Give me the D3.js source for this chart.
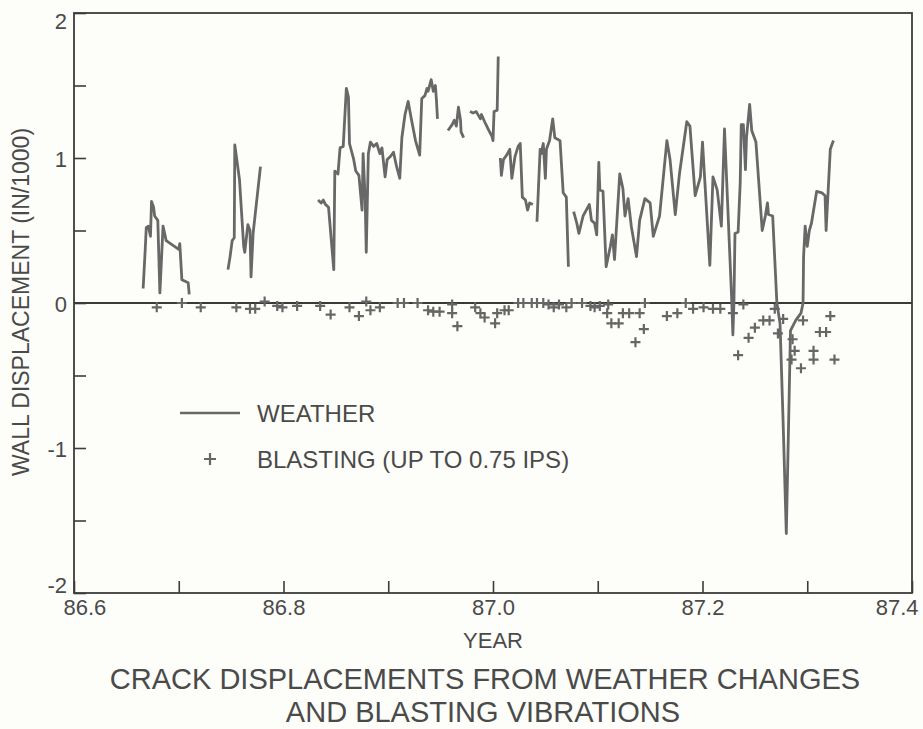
<!DOCTYPE html>
<html>
<head>
<meta charset="utf-8">
<script src="https://cdn.jsdelivr.net/npm/d3@7"></script>
<style>
  html, body { margin: 0; padding: 0; background: #fdfdf9; }
  svg { display: block; }
  text { font-family: "Liberation Sans", Arial, Helvetica, sans-serif; fill: #4a4a4a; }
</style>
</head>
<body>
<svg id="chart" width="923" height="729"></svg>
<script>
// ---------- DATA ----------
const xTicks = [86.6, 86.7, 86.8, 86.9, 87.0, 87.1, 87.2, 87.3, 87.4];
const xTickLabels = ["86.6", "", "86.8", "", "87.0", "", "87.2", "", "87.4"];
const yTicks = [-2, -1.5, -1, -0.5, 0, 0.5, 1, 1.5, 2];
const yTickLabels = ["-2", "", "-1", "", "0", "", "1", "", "2"];

// weather record, broken into the separate traces of the figure: [year, displacement]
const weather1 = [[86.666,0.10],[86.668,0.37],[86.669,0.52],[86.671,0.53],[86.673,0.46],[86.674,0.70],[86.676,0.66],[86.677,0.60],[86.680,0.57],[86.682,0.07],[86.685,0.53],[86.688,0.43],[86.700,0.37],[86.701,0.41],[86.703,0.16],[86.706,0.15],[86.709,0.14],[86.710,0.06]];
const weather2 = [[86.747,0.23],[86.749,0.32],[86.751,0.43],[86.753,0.45],[86.7535,1.09],[86.755,1.01],[86.758,0.85],[86.762,0.39],[86.763,0.35],[86.766,0.54],[86.768,0.50],[86.769,0.18],[86.771,0.48],[86.778,0.94]];
const weather3 = [[86.833,0.71],[86.836,0.69],[86.838,0.71],[86.840,0.68],[86.843,0.66],[86.848,0.23],[86.849,0.91],[86.852,0.89],[86.854,1.07],[86.857,1.08],[86.860,1.48],[86.862,1.42],[86.863,1.10],[86.867,0.99],[86.869,0.91],[86.872,0.88],[86.875,0.64],[86.876,1.03],[86.878,0.71],[86.879,0.35],[86.881,1.03],[86.883,1.11],[86.886,1.08],[86.889,1.10],[86.892,1.03],[86.894,1.07],[86.897,0.87],[86.899,0.99],[86.902,1.01],[86.905,1.04],[86.908,0.94],[86.911,0.86],[86.913,1.14],[86.916,1.30],[86.919,1.39],[86.922,1.27],[86.926,1.12],[86.930,1.02],[86.932,1.41],[86.935,1.43],[86.937,1.48],[86.938,1.46],[86.941,1.54],[86.943,1.46],[86.945,1.50],[86.946,1.40],[86.947,1.27]];
const weather4 = [[86.957,1.19],[86.961,1.23],[86.963,1.26],[86.965,1.22],[86.967,1.35],[86.969,1.26],[86.9695,1.18],[86.972,1.14]];
const weather5 = [[86.978,1.32],[86.981,1.31],[86.984,1.32],[86.988,1.27],[86.989,1.30],[86.992,1.25],[86.996,1.19],[86.999,1.15],[87.000,1.12],[87.001,1.32],[87.004,1.33],[87.005,1.70]];
const weather6 = [[87.007,1.00],[87.008,0.88],[87.010,0.99],[87.013,1.02],[87.016,1.06],[87.018,0.86],[87.021,1.01],[87.024,1.08],[87.026,1.10],[87.028,0.73],[87.031,0.71],[87.033,0.64],[87.035,0.69],[87.038,0.68]];
const weather7 = [[87.042,0.56],[87.045,1.06],[87.046,1.03],[87.048,1.10],[87.050,0.86],[87.051,1.06],[87.054,1.12],[87.057,1.27],[87.059,1.14],[87.064,1.12],[87.067,0.76],[87.070,0.73],[87.072,0.25]];
const weather8 = [[87.077,0.63],[87.080,0.55],[87.082,0.48],[87.086,0.60],[87.089,0.64],[87.092,0.68],[87.094,0.57],[87.097,0.55],[87.099,0.47],[87.101,0.97],[87.102,0.78],[87.105,0.77],[87.108,0.25],[87.112,0.39],[87.114,0.47],[87.116,0.30],[87.121,0.89],[87.124,0.79],[87.126,0.60],[87.129,0.72],[87.132,0.53],[87.137,0.32],[87.140,0.57],[87.145,0.72],[87.150,0.69],[87.153,0.46],[87.156,0.53],[87.159,0.60],[87.166,1.12],[87.169,0.99],[87.174,0.61],[87.178,0.89],[87.185,1.25],[87.188,1.22],[87.193,0.74],[87.198,0.87],[87.200,1.11],[87.207,0.26],[87.210,0.87],[87.214,0.78],[87.218,0.53],[87.221,1.20],[87.228,0.00],[87.229,-0.22],[87.230,0.00],[87.231,0.48],[87.234,0.49],[87.236,0.83],[87.237,1.23],[87.239,1.23],[87.241,0.92],[87.242,1.14],[87.245,1.37],[87.247,1.19],[87.251,1.11],[87.257,0.50],[87.260,0.60],[87.262,0.69],[87.263,0.61],[87.267,0.60],[87.271,0.00],[87.274,-0.14],[87.277,-0.83],[87.280,-1.59],[87.282,-0.90],[87.284,-0.19],[87.289,-0.12],[87.294,-0.07],[87.296,0.00],[87.2965,0.32],[87.298,0.53],[87.300,0.39],[87.302,0.50],[87.304,0.55],[87.309,0.77],[87.314,0.76],[87.317,0.74],[87.318,0.50],[87.320,0.78],[87.322,1.06],[87.325,1.12]];
const weatherSegments = [weather1, weather2, weather3, weather4, weather5, weather6, weather7, weather8];

// blasting events
const blastYear = [86.679,86.703,86.721,86.755,86.768,86.773,86.782,86.794,86.799,86.813,86.835,86.845,86.863,86.872,86.879,86.883,86.892,86.909,86.915,86.928,86.938,86.943,86.949,86.961,86.961,86.966,86.983,86.988,86.992,87.002,87.004,87.011,87.015,87.024,87.029,87.037,87.042,87.048,87.053,87.058,87.063,87.070,87.075,87.085,87.093,87.097,87.102,87.109,87.110,87.113,87.120,87.124,87.130,87.136,87.140,87.144,87.145,87.166,87.176,87.184,87.191,87.201,87.210,87.217,87.229,87.234,87.239,87.244,87.250,87.258,87.264,87.269,87.272,87.277,87.285,87.286,87.288,87.294,87.296,87.306,87.306,87.312,87.318,87.322,87.326];
const blastValue = [-0.03,0.00,-0.03,-0.03,-0.04,-0.04,0.01,-0.02,-0.03,-0.02,-0.02,-0.08,-0.03,-0.09,0.01,-0.05,-0.03,0.00,0.00,0.00,-0.05,-0.06,-0.06,-0.01,-0.07,-0.16,-0.03,-0.07,-0.10,-0.14,-0.07,-0.05,-0.05,0.00,0.00,0.00,0.00,0.00,-0.01,-0.03,-0.01,-0.03,0.00,0.00,-0.02,-0.03,-0.02,-0.07,-0.01,-0.14,-0.14,-0.07,-0.07,-0.27,-0.07,-0.18,0.00,-0.09,-0.07,0.00,-0.04,-0.03,-0.04,-0.04,-0.07,-0.36,-0.01,-0.24,-0.17,-0.12,-0.12,-0.04,-0.21,-0.11,-0.39,-0.25,-0.33,-0.45,-0.12,-0.33,-0.39,-0.20,-0.20,-0.09,-0.39];

const legendLabels = ["WEATHER", "BLASTING (UP TO 0.75 IPS)"];
const xTitle = "YEAR";
const yTitle = "WALL DISPLACEMENT (IN/1000)";
const titleLines = ["CRACK DISPLACEMENTS FROM WEATHER CHANGES", "AND BLASTING VIBRATIONS"];

// ---------- DRAW ----------
const svg = d3.select("#chart");
const L = 74, R = 912, T = 13, B = 593;
const x = d3.scaleLinear().domain([86.6, 87.4]).range([L, R]);
const y = d3.scaleLinear().domain([-2, 2]).range([B, T]);

const axisColor = "#3c3c3c";
const lineColor = "#686868";

// bottom axis (ticks pointing inward)
const gx = svg.append("g").attr("transform", `translate(0,${B})`)
  .call(d3.axisBottom(x).tickValues(xTicks).tickSizeInner(-12).tickSizeOuter(0)
    .tickFormat((d, i) => xTickLabels[i]));
gx.select(".domain").remove();
gx.selectAll(".tick line").attr("stroke", axisColor).attr("stroke-width", 1.6);
gx.selectAll(".tick text").attr("font-size", 22).attr("fill", "#4a4a4a")
  .attr("y", 0).attr("dy", 0)
  .attr("transform", "translate(0,22)")
  .attr("text-anchor", (d, i) => i === 0 ? "start" : (i === xTicks.length - 1 ? "end" : "middle"))
  .attr("dx", (d, i) => i === 0 ? -11 : (i === xTicks.length - 1 ? 6 : 0));

// left axis
const gy = svg.append("g").attr("transform", `translate(${L},0)`)
  .call(d3.axisLeft(y).tickValues(yTicks).tickSizeInner(-12).tickSizeOuter(0)
    .tickFormat((d, i) => yTickLabels[i]));
gy.select(".domain").remove();
gy.selectAll(".tick line").attr("stroke", axisColor).attr("stroke-width", 1.6);
gy.selectAll(".tick text").attr("font-size", 22).attr("fill", "#4a4a4a")
  .attr("x", -7).attr("dy", 0)
  .attr("transform", (d) => d === 2 ? "translate(0,15)" : (d === -2 ? "translate(0,-1)" : "translate(0,8)"));

// frame
svg.append("rect").attr("x", L).attr("y", T).attr("width", R - L).attr("height", B - T)
  .attr("fill", "none").attr("stroke", axisColor).attr("stroke-width", 1.8);

// zero line
svg.append("line").attr("x1", L).attr("x2", R).attr("y1", y(0)).attr("y2", y(0))
  .attr("stroke", "#3a3a3a").attr("stroke-width", 2);

// weather traces
const line = d3.line().x(d => x(d[0])).y(d => y(d[1]));
svg.append("g").selectAll("path").data(weatherSegments).join("path")
  .attr("d", line).attr("fill", "none").attr("stroke", lineColor)
  .attr("stroke-width", 2.8).attr("stroke-linejoin", "round");

// blasting markers
const crossPath = (cx, cy, s) => `M${cx - s},${cy}H${cx + s}M${cx},${cy - s}V${cy + s}`;
svg.append("g").selectAll("path").data(blastYear.map((v, i) => [v, blastValue[i]])).join("path")
  .attr("d", d => crossPath(x(d[0]), y(d[1]), 5))
  .attr("stroke", "#666").attr("stroke-width", 2.2).attr("fill", "none");

// legend
svg.append("line").attr("x1", 180).attr("x2", 240).attr("y1", 413).attr("y2", 413)
  .attr("stroke", lineColor).attr("stroke-width", 2.4);
svg.append("text").attr("x", 257).attr("y", 422).attr("font-size", 24).text(legendLabels[0]);
svg.append("path").attr("d", crossPath(210, 459, 6)).attr("stroke", "#666").attr("stroke-width", 2.2);
svg.append("text").attr("x", 257).attr("y", 468).attr("font-size", 24).text(legendLabels[1]);

// axis titles
svg.append("text").attr("x", 493).attr("y", 648).attr("text-anchor", "middle")
  .attr("font-size", 22).text(xTitle);
svg.append("text").attr("transform", "translate(29,302) rotate(-90)").attr("text-anchor", "middle")
  .attr("font-size", 23).text(yTitle);

// chart title
svg.append("text").attr("x", 485).attr("y", 689).attr("text-anchor", "middle")
  .attr("font-size", 29).text(titleLines[0]);
svg.append("text").attr("x", 483).attr("y", 722).attr("text-anchor", "middle")
  .attr("font-size", 29).text(titleLines[1]);
</script>
</body>
</html>
